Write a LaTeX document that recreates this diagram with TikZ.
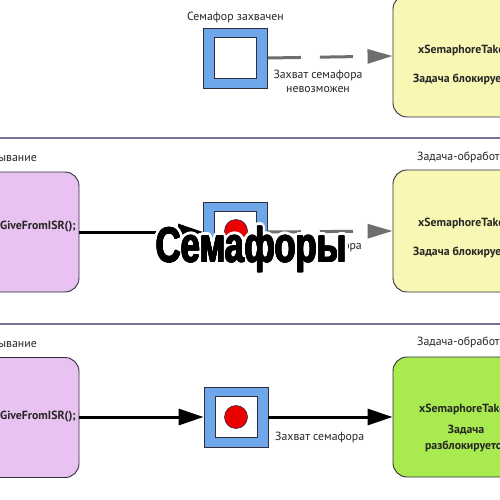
\documentclass[tikz,border=0pt]{standalone}
\usepackage{fontspec}
\setmainfont{PT Sans}
\newfontfamily\titlefont{Liberation Sans}
\usetikzlibrary{arrows.meta,calc}
\definecolor{blueF}{RGB}{110,168,235}
\definecolor{yellowF}{RGB}{249,247,180}
\definecolor{purpleF}{RGB}{232,194,240}
\definecolor{greenF}{RGB}{168,234,80}
\definecolor{redF}{RGB}{235,0,0}
\definecolor{sepC}{RGB}{125,110,150}
\definecolor{edgeC}{RGB}{50,45,60}
\definecolor{dashC}{RGB}{110,110,110}
\newcommand{\titletext}{\scalebox{0.71}[1]{\titlefont\bfseries\fontsize{49}{49}\selectfont Семафоры}}
\begin{document}
\begin{tikzpicture}[x=1pt,y=-1pt,
  lab/.style={font=\fontsize{11.8}{14}\selectfont, inner sep=0pt, text=black!85},
  btxt/.style={font=\fontsize{11.8}{16}\selectfont\bfseries, inner sep=0pt, text=black!85},
  semabox/.style={draw=edgeC, line width=0.8pt, fill=blueF, minimum width=64pt, minimum height=60pt, inner sep=0pt},
  innerbox/.style={draw=edgeC, line width=0.8pt, fill=white, minimum width=42pt, minimum height=41pt, inner sep=0pt},
  token/.style={circle, draw=edgeC, line width=0.6pt, fill=redF, minimum size=23pt, inner sep=0pt},
  taskbox/.style={draw=edgeC, line width=0.9pt, rounded corners=14pt, minimum width=150pt, inner sep=0pt},
  isrbox/.style={taskbox, fill=purpleF, minimum height=120pt},
  sarr/.style={line width=3pt, black, -{Triangle[length=25pt,width=16pt]}},
  darr/.style={line width=3pt, dashC, dash pattern=on 33pt off 19pt, -{Triangle[length=25pt,width=14pt]}},
  sep/.style={line width=1.5pt, sepC}]
\useasboundingbox (0,0) rectangle (500,500);
\clip (0,0) rectangle (500,500);
\fill[white] (0,0) rectangle (500,500);

% separators
\coordinate (a1) at (0,138); \coordinate (b1) at (500,138);
\coordinate (a2) at (0,324); \coordinate (b2) at (500,324);
\draw[sep] (a1) -- (b1);
\draw[sep] (a2) -- (b2);

% ---------- panel 1 ----------
\node[lab] (l1) at (235.5,17) {Семафор захвачен};
\node[semabox] (s1) at (235.5,58) {};
\node[innerbox] (i1) at (s1.center) {};
\node[taskbox, fill=yellowF, minimum height=122pt] (y1) at (468,56) {};
\node[btxt, anchor=mid west] (t1a) at (418,51) {xSemaphoreTake();};
\node[btxt, anchor=mid west] (t1b) at (413,80) {Задача блокируется};
\draw[darr] (s1.east) -- (y1.west);
\node[lab, align=center] (c1) at (318,81) {Захват семафора\\невозможен};

% ---------- panel 2 ----------
\node[lab, anchor=mid east] (r2) at (37,159) {Прерывание};
\node[isrbox] (p2) at (4,232) {};
\node[btxt, anchor=mid east] (g2) at (76,227) {xSemaphoreGiveFromISR();};
\node[semabox] (s2) at (235.5,232) {};
\node[innerbox] (i2) at (s2.center) {};
\node[token] (k2) at (236,231) {};
\node[lab, anchor=mid west] (h2) at (417,158) {Задача-обработчик};
\node[taskbox, fill=yellowF, minimum height=122pt] (y2) at (468,231) {};
\node[btxt, anchor=mid west] (t2a) at (418,224) {xSemaphoreTake();};
\node[btxt, anchor=mid west] (t2b) at (413,253) {Задача блокируется};
\draw[sarr] (p2.east |- s2.west) -- (s2.west);
\draw[darr] (s2.east) -- (y2.west);
\node[lab, anchor=mid east] (c2) at (362,247) {Захват семафора};

% ---------- title ----------
\foreach \a in {0,15,...,345}{
  \node[inner sep=0pt, anchor=base, text=white] at ($(251.5,262)+(\a:3.2)$) {\titletext};
  \node[inner sep=0pt, anchor=base, text=white] at ($(251.5,262)+(\a:1.6)$) {\titletext};
}
\foreach \a in {0,45,...,315}{
  \node[inner sep=0pt, anchor=base, text=black] at ($(251.5,262)+(\a:0.6)$) {\titletext};
}
\node[inner sep=0pt, anchor=base, text=black] (title) at (251.5,262) {\titletext};

% ---------- panel 3 ----------
\node[lab, anchor=mid east] (r3) at (37,345) {Прерывание};
\node[isrbox] (p3) at (4,417.5) {};
\node[btxt, anchor=mid east] (g3) at (76,417) {xSemaphoreGiveFromISR();};
\node[semabox] (s3) at (236,417) {};
\node[innerbox] (i3) at (s3.center) {};
\node[token] (k3) at (236,417) {};
\node[lab, anchor=mid west] (h3) at (417,343) {Задача-обработчик};
\node[taskbox, fill=greenF, minimum height=120pt] (y3) at (468,417) {};
\node[btxt, anchor=mid west] (t3a) at (419,410) {xSemaphoreTake();};
\node[btxt, align=center] (t3b) at (466,439) {Задача\\разблокируется};
\draw[sarr] (p3.east |- s3.west) -- (s3.west);
\draw[sarr] (s3.east) -- (y3.west);
\node[lab, anchor=mid west] (c3) at (275,438) {Захват семафора};
\end{tikzpicture}
\end{document}
